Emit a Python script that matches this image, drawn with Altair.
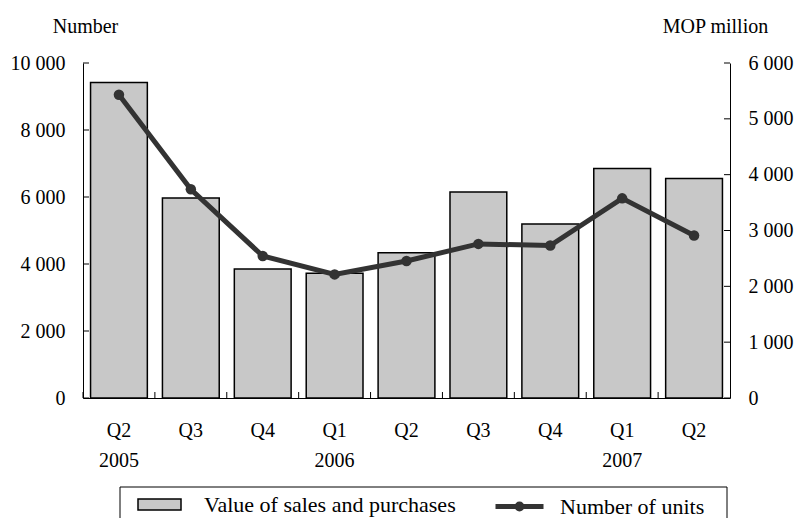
import altair as alt
import pandas as pd

# ---- data ----
keys = ["2005 Q2", "2005 Q3", "2005 Q4", "2006 Q1", "2006 Q2",
        "2006 Q3", "2006 Q4", "2007 Q1", "2007 Q2"]
quarters = ["Q2", "Q3", "Q4", "Q1", "Q2", "Q3", "Q4", "Q1", "Q2"]
year_labels = ["2005", "", "", "2006", "", "", "", "2007", ""]
value_mop = [5650, 3580, 2310, 2235, 2600, 3690, 3115, 4110, 3930]   # MOP million (right axis)
units = [9050, 6230, 4240, 3690, 4090, 4600, 4550, 5960, 4850]        # number (left axis)
left_ticks = [0, 2000, 4000, 6000, 8000, 10000]
right_ticks = [0, 1000, 2000, 3000, 4000, 5000, 6000]

bar_name = "Value of sales and purchases"
line_name = "Number of units"

df = pd.DataFrame({"key": keys, "value": value_mop, "units": units,
                   "s1": [bar_name] * len(keys), "s2": [line_name] * len(keys)})
lt = pd.DataFrame({"t": left_ticks})
rt = pd.DataFrame({"t": right_ticks})

W, H = 647, 335
FONT = "Liberation Serif"

label_expr = " : ".join(
    f"datum.value == '{k}' ? ['{q}', '{y}']" for k, q, y in zip(keys, quarters, year_labels)
) + " : datum.value"

x_axis = alt.Axis(title=None, labelExpr=label_expr, labelAngle=0, labelFont=FONT,
                  labelFontSize=20, labelColor="black", labelPadding=22,
                  labelLineHeight=30, labelBaseline="top", ticks=False,
                  domainColor="black", domainWidth=1, labelOverlap=False)
x_scale = alt.Scale(paddingInner=0, paddingOuter=0)

num_expr = "replace(format(datum.value, ','), ',', ' ')"

bars = alt.Chart(df).mark_bar(
    width=alt.RelativeBandSize(0.79), stroke="black", strokeWidth=1.5
).encode(
    x=alt.X("key:N", sort=keys, scale=x_scale, axis=x_axis),
    y=alt.Y("value:Q", scale=alt.Scale(domain=[0, 6000], nice=False),
            axis=alt.Axis(orient="right", values=right_ticks, labelExpr=num_expr,
                          ticks=False, grid=False, labelPadding=18, labelFont=FONT,
                          labelFontSize=20, labelColor="black", domainColor="black",
                          domainWidth=1, title="MOP million", titleAngle=0,
                          titleFont=FONT, titleFontSize=20, titleFontWeight="normal",
                          titleColor="black", titleX=-15, titleY=-31,
                          titleAlign="center", titleBaseline="alphabetic")),
    color=alt.Color("s1:N", scale=alt.Scale(domain=[bar_name], range=["#c8c8c8"]),
                    legend=alt.Legend(title=None, orient="none", legendX=54, legendY=419,
                                      padding=0, symbolType="M-1,-0.26H1V0.26H-1Z",
                                      symbolSize=1849, symbolStrokeColor="black",
                                      symbolStrokeWidth=1.5, labelOffset=22,
                                      labelFont=FONT, labelFontSize=22,
                                      labelColor="black", labelLimit=0)),
)

line = alt.Chart(df).mark_line(
    strokeWidth=5, point=alt.OverlayMarkDef(filled=True, size=110, color="#333333")
).encode(
    x=alt.X("key:N", sort=keys, scale=x_scale, axis=x_axis),
    y=alt.Y("units:Q", scale=alt.Scale(domain=[0, 10000], nice=False),
            axis=alt.Axis(orient="left", values=left_ticks, labelExpr=num_expr,
                          ticks=False, grid=False, labelPadding=18, labelFont=FONT,
                          labelFontSize=20, labelColor="black", domainColor="black",
                          domainWidth=1, title="Number", titleAngle=0,
                          titleFont=FONT, titleFontSize=20, titleFontWeight="normal",
                          titleColor="black", titleX=2, titleY=-31,
                          titleAlign="center", titleBaseline="alphabetic")),
    color=alt.Color("s2:N", scale=alt.Scale(domain=[line_name], range=["#333333"]),
                    legend=alt.Legend(title=None, orient="none", legendX=410, legendY=417,
                                      padding=0,
                                      symbolType="M-1,0H1M0.1,0A0.1,0.1 0 1,1 -0.1,0A0.1,0.1 0 1,1 0.1,0",
                                      symbolSize=2304, symbolStrokeWidth=5,
                                      labelOffset=14, labelFont=FONT, labelFontSize=22,
                                      labelColor="black", labelLimit=0)),
)

left_tick_marks = alt.Chart(lt).mark_rule(color="black", strokeWidth=1).encode(
    y=alt.Y("t:Q", scale=alt.Scale(domain=[0, 10000], nice=False), axis=None),
    x=alt.value(0), x2=alt.value(6),
)
right_tick_marks = alt.Chart(rt).mark_rule(color="black", strokeWidth=1).encode(
    y=alt.Y("t:Q", scale=alt.Scale(domain=[0, 6000], nice=False), axis=None),
    x=alt.value(W - 6), x2=alt.value(W),
)
bottom_ticks = alt.Chart(df).mark_rule(color="black", strokeWidth=1).encode(
    x=alt.X("key:N", sort=keys, scale=x_scale, axis=x_axis, bandPosition=0),
    y=alt.value(H - 6), y2=alt.value(H),
)
legend_box = alt.Chart(pd.DataFrame({"a": [0]})).mark_rect(
    filled=False, stroke="black", strokeWidth=1
).encode(x=alt.value(37), x2=alt.value(644), y=alt.value(424), y2=alt.value(480))

chart = alt.layer(
    bars, bottom_ticks, left_tick_marks, right_tick_marks, line, legend_box
).resolve_scale(y="independent", color="independent").properties(
    width=W, height=H,
    autosize=alt.AutoSizeParams(type="none"),
    padding={"left": 83, "top": 63, "right": 65, "bottom": 120},
    background="white",
).configure_view(stroke=None).configure_axis(grid=False)

chart.save("out.html", embed_options={"renderer": "svg", "actions": False})
